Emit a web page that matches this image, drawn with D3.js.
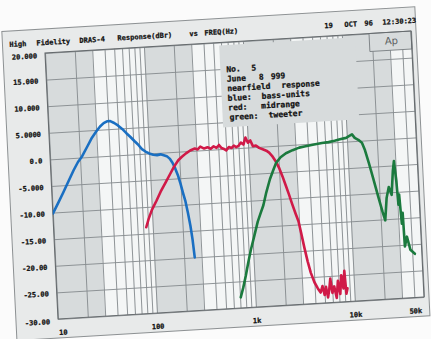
<!DOCTYPE html>
<html>
<head>
<meta charset="utf-8">
<script src="https://cdn.jsdelivr.net/npm/d3@7"></script>
<style>
  body { margin: 0; background: #fbfbfb; }
  svg { display: block; }
  text { font-family: "DejaVu Sans Mono", "Liberation Mono", monospace; font-weight: bold; fill: #111; stroke: #111; stroke-width: 0.25px; }
</style>
</head>
<body>
<svg id="chart" width="431" height="339"></svg>
<script>
// bass units (blue)
const bassFreq = [10, 11.5, 13, 15, 17, 19, 21, 24, 27, 30, 33, 36, 39, 42, 46, 50, 55, 60, 66, 72, 78, 85, 92, 100,
  110, 120, 130, 140, 150, 160, 170, 180, 190, 200, 210, 220, 230, 240, 248, 256];
const bassDb = [-10.2, -8.2, -6.4, -4.2, -2.3, -0.8, 0.2, 2.0, 3.6, 4.7, 5.6, 6.2, 6.5, 6.5, 6.1, 5.6, 4.9, 4.1, 3.3, 2.5, 1.8, 0.9, 0.4, 0.0,
  -0.3, -0.4, -0.3, -0.5, -0.7, -1.2, -2.0, -3.1, -4.4, -6.0, -7.8, -9.4, -11.6, -14.0, -16.5, -20.0];

// midrange (red)
const midFreq = [86, 92, 100, 112, 125, 142, 160, 175, 195, 213, 235, 260, 290, 310, 330, 360, 390, 420, 450, 480, 510, 540,
  570, 600, 640, 680, 720, 760, 800, 850, 900, 950, 1000, 1060, 1120, 1200, 1290, 1400, 1520, 1620, 1750, 1880, 2000,
  2150, 2300, 2450, 2600, 2800, 2960, 3100, 3300, 3500, 3720, 4000, 4300, 4570, 4800, 5000, 5200, 5400, 5600, 5800,
  6000, 6300, 6600, 6900, 7200, 7500, 7800, 8100, 8300, 8560];
const midDb = [-13.8, -12.2, -10.6, -9.0, -7.3, -5.6, -4.0, -2.8, -1.6, -1.0, -0.4, 0.1, 0.4, 0.2, 0.7, 0.3, 0.5, 0.2, 0.6, 0.3, 0.8, 0.2,
  0.0, -0.3, 0.3, 0.1, 0.5, 0.2, 0.4, 1.0, 0.6, 1.9, 0.9, 1.3, 0.2, 0.3, -0.2, -0.5, -0.8, -1.2, -2.0, -3.0, -4.1,
  -5.8, -7.6, -9.3, -11.0, -13.0, -14.4, -16.5, -19.5, -22.0, -24.2, -26.0, -27.2, -28.0, -26.8, -28.5, -27.0, -29.0, -27.5, -25.5,
  -28.2, -27.0, -29.2, -26.0, -28.5, -25.0, -27.5, -24.2, -28.5, -27.5];

// tweeter (green)
const tweetFreq = [711, 760, 820, 880, 950, 1050, 1150, 1250, 1335, 1450, 1600, 1750, 1880, 2100, 2390, 2800, 3270, 3800,
  4500, 5560, 6500, 7500, 8500, 9830, 10500, 11300, 12000, 13000, 14100, 15000, 16200, 17500, 19400, 21000, 22200,
  23500, 25000, 26500, 28000, 29000, 30000, 30700, 31500, 32500, 33500, 34000, 36000, 38500, 42500];
const tweetDb = [-28.0, -26.3, -24.0, -21.6, -19.2, -16.5, -14.0, -12.3, -11.0, -8.6, -6.2, -4.5, -3.2, -2.2, -1.5, -1.0, -0.6, -0.4,
  -0.2, 0.0, 0.1, 0.3, 0.5, 0.7, 1.0, 1.3, 0.6, 0.2, -0.4, -1.8, -4.3, -7.0, -10.7, -13.5, -15.2,
  -11.0, -9.0, -10.5, -6.0, -4.2, -8.0, -12.4, -10.5, -16.0, -14.0, -20.3, -18.5, -21.0, -21.8];

const xTickValues = [10, 100, 1000, 10000, 50000];
const xTickLabels = ["10", "100", "1k", "10k", "50k"];
const yTickValues = [20, 15, 10, 5, 0, -5, -10, -15, -20, -25, -30];
const yTickLabels = ["20.000", "15.000", "10.000", "5.0000", "0.0", "-5.000", "-10.00", "-15.00", "-20.00", "-25.00", "-30.00"];

const titleWords = ["High", "Fidelity", "DRAS-4", "Response(dBr)", "vs", "FREQ(Hz)"];
const titleX = [10, 37, 80, 118, 190, 205];
const dateWords = ["19", "OCT", "96", "12:30:23"];
const dateX = [325, 345, 365, 383];

const noteLines = [
  ["No.", "5"],
  ["June", "8", "999"],
  ["nearfield", "response"],
  ["blue:", "bass-units"],
  ["red:", "midrange"],
  ["green:", "tweeter"]
];
const noteX = [
  [225, 250],
  [225, 257, 269],
  [225, 279],
  [225, 259],
  [225, 258],
  [226, 265]
];

const L = 45, T = 53, W = 366, H = 266;
const R = L + W, B = T + H;

const svg = d3.select("#chart");
// photo of a printout: slight tilt/skew
const g = svg.append("g")
  .attr("transform", "matrix(1,-0.0601,0.0489,1,-2.59,2.70)");

// sheet
g.append("rect")
  .attr("x", 3).attr("y", 29).attr("width", 413).attr("height", 309)
  .attr("fill", "#e8eaea").attr("stroke", "#8d9193").attr("stroke-width", 1);

const x = d3.scaleLog().domain([10, 50000]).range([L, R]);
const y = d3.scaleLinear().domain([-30, 20]).range([B, T]);

// plot background
g.append("rect").attr("x", L).attr("y", T).attr("width", W).attr("height", H).attr("fill", "#d7dbdc");

// narrow columns print lighter
const vt = x.ticks();
for (let i = 0; i < vt.length - 1; i++) {
  const w = x(vt[i + 1]) - x(vt[i]);
  if (w < 13) {
    g.append("rect").attr("x", x(vt[i])).attr("y", T).attr("width", w).attr("height", H).attr("fill", "#f4f6f6");
  }
}

// grid
g.append("g")
  .attr("transform", `translate(0,${B})`)
  .call(d3.axisBottom(x).tickValues(vt).tickSize(-H).tickFormat(""))
  .call(a => a.select(".domain").remove())
  .call(a => a.selectAll("line").attr("stroke", "#878c8f").attr("stroke-width", 0.9));

g.append("g")
  .attr("transform", `translate(${L},0)`)
  .call(d3.axisLeft(y).tickValues(yTickValues).tickSize(-W).tickFormat(""))
  .call(a => a.select(".domain").remove())
  .call(a => a.selectAll("line").attr("stroke", "#878c8f").attr("stroke-width", 0.9));

// note box
g.append("rect").attr("x", 219).attr("y", 56).attr("width", 136).attr("height", 82).attr("fill", "#d7dbdc");

// Ap box
g.append("rect").attr("x", 369).attr("y", T).attr("width", R - 369).attr("height", 18)
  .attr("fill", "#d7dbdc").attr("stroke", "#7a7f82").attr("stroke-width", 0.9);
g.append("text").attr("x", 391).attr("y", 65).attr("text-anchor", "middle")
  .style("font-family", "DejaVu Sans").style("font-size", "10px").style("font-weight", "normal")
  .style("fill", "#5a5e60").style("stroke", "none")
  .text("Ap");

// plot border
g.append("rect").attr("x", L).attr("y", T).attr("width", W).attr("height", H)
  .attr("fill", "none").attr("stroke", "#666b6e").attr("stroke-width", 1.1);

// axes labels
g.append("g")
  .attr("transform", `translate(${L},0)`)
  .call(d3.axisLeft(y).tickValues(yTickValues).tickFormat((d, i) => yTickLabels[i]).tickSize(0).tickPadding(8))
  .call(a => a.select(".domain").remove())
  .call(a => a.selectAll("text").style("font-size", "7px")
    .attr("dy", (d, i) => (i === 0 || i === yTickValues.length - 1) ? "0.62em" : "0.42em"));

g.append("g")
  .attr("transform", `translate(0,${B})`)
  .call(d3.axisBottom(x).tickValues(xTickValues).tickFormat((d, i) => xTickLabels[i]).tickSize(0).tickPadding(11))
  .call(a => a.select(".domain").remove())
  .call(a => a.selectAll("text").style("font-size", "7px")
    .attr("text-anchor", (d, i) => i === 0 ? "start" : (i === xTickValues.length - 1 ? "end" : "middle"))
    .attr("dx", (d, i) => i === xTickValues.length - 1 ? -3 : 0));

// header
g.selectAll(".title").data(titleWords).join("text")
  .attr("x", (d, i) => titleX[i]).attr("y", 45)
  .style("font-size", "7px").text(d => d);
g.selectAll(".date").data(dateWords).join("text")
  .attr("class", "date")
  .attr("x", (d, i) => dateX[i]).attr("y", 45)
  .style("font-size", "7px").text(d => d);

// note text
noteLines.forEach((words, li) => {
  words.forEach((w, wi) => {
    g.append("text").attr("x", noteX[li][wi]).attr("y", 83 + li * 9.6)
      .style("font-size", "8px").text(w);
  });
});

// curves
g.append("clipPath").attr("id", "clip").append("rect")
  .attr("x", L).attr("y", T).attr("width", W).attr("height", H);

const line = d3.line().x(d => x(d[0])).y(d => y(d[1]));
const curves = [
  { f: bassFreq, v: bassDb, c: "#1a6fc2" },
  { f: midFreq, v: midDb, c: "#d01a48" },
  { f: tweetFreq, v: tweetDb, c: "#1b7a3e" }
];
curves.forEach(s => {
  g.append("path")
    .attr("clip-path", "url(#clip)")
    .attr("d", line(s.f.map((f, i) => [f, s.v[i]])))
    .attr("fill", "none").attr("stroke", s.c).attr("stroke-width", 2.6)
    .attr("stroke-linejoin", "round").attr("stroke-linecap", "round");
});
</script>
</body>
</html>
